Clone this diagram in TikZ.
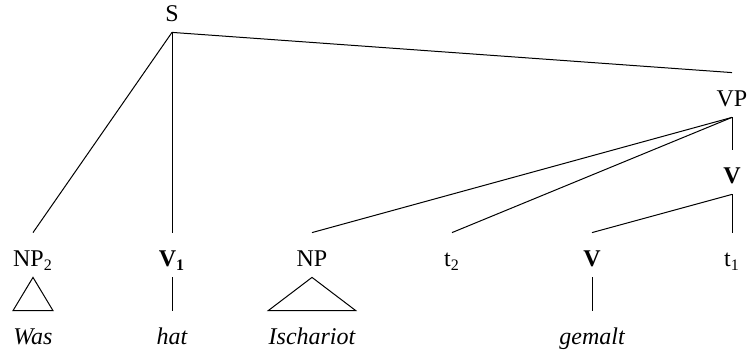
\documentclass[tikz,border=0pt]{standalone}
\usepackage{fontspec}
\setmainfont{Liberation Serif}
\usepackage{tikz}

\tikzset{
  cat/.style={anchor=base, inner sep=0pt, text height=17pt, text depth=5pt,
    font=\fontsize{12}{14}\selectfont},
  leaf/.style={cat, font=\fontsize{12}{14}\selectfont\itshape},
  branch/.style={black, line width=0.5pt}
}

\begin{document}
\begin{tikzpicture}[x=0.5pt,y=-0.5pt]
\useasboundingbox (0,0) rectangle (750,351);
% categories
\node[cat] (s) at (172,22) {S};
\node[cat] (vp) at (732,107) {VP};
\node[cat] (vbar) at (732,184) {\textbf{V}};
\node[cat] (np2) at (33,267) {NP\textsubscript{2}};
\node[cat] (v1) at (172,267) {\textbf{V\textsubscript{1}}};
\node[cat] (np) at (312,267) {NP};
\node[cat] (t2) at (452,267) {t\textsubscript{2}};
\node[cat] (v) at (592,267) {\textbf{V}};
\node[cat] (t1) at (732,267) {t\textsubscript{1}};
% words
\node[leaf] (was) at (33,345) {Was};
\node[leaf] (hat) at (172,345) {hat};
\node[leaf] (isch) at (312,345) {Ischariot};
\node[leaf] (gemalt) at (592,345) {gemalt};
% branches
\draw[branch] (s.south) -- (np2.north);
\draw[branch] (s.south) -- (v1.north);
\draw[branch] (s.south) -- (vp.north);
\draw[branch] (vp.south) -- (np.north);
\draw[branch] (vp.south) -- (t2.north);
\draw[branch] (vp.south) -- (vbar.north);
\draw[branch] (vbar.south) -- (v.north);
\draw[branch] (vbar.south) -- (t1.north);
\draw[branch] (v1.south) -- (hat.north);
\draw[branch] (v.south) -- (gemalt.north);
% triangles
\draw[branch] (np2.south) -- (was.north west) -- (was.north east) -- cycle;
\draw[branch] (np.south) -- (isch.north west) -- (isch.north east) -- cycle;
\end{tikzpicture}
\end{document}
